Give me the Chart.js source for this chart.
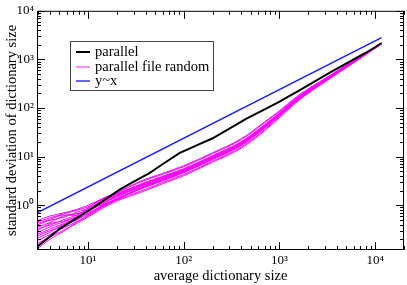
<!DOCTYPE html>
<html>
<head>
<meta charset="utf-8">
<script src="https://cdn.jsdelivr.net/npm/chart.js@4.4.1/dist/chart.umd.min.js"></script>
<style>
  html, body { margin: 0; padding: 0; background: #fff; }
  #wrap { width: 407px; height: 285px; }
</style>
</head>
<body>
<div id="wrap"><canvas id="chart" width="407" height="285"></canvas></div>
<script>
// Series labels as in the legend
const seriesLabels = ['parallel', 'parallel file random', 'y~x'];

// "parallel" (black)
const parallelX = [2.93, 4, 5.07, 7, 10, 14, 21.4, 30, 43.8, 60, 90, 140, 198, 300, 447, 700, 980, 1600, 3500, 8000, 11650];
const parallelY = [0.14, 0.226, 0.33, 0.49, 0.76, 1.19, 2.1, 3.05, 4.6, 6.97, 11.8, 17.4, 23.6, 37.8, 60, 93.5, 132, 228, 559, 1372, 2150];

// "parallel file random" (magenta, several runs on the same x values)
const randomX = [2.93, 4, 5.5, 7.5, 10, 14, 20, 35, 60, 100, 200, 400, 700, 1000, 1600, 3000, 6000, 11600];
const randomRuns = [
  [0.48, 0.6, 0.69, 0.81, 1.0, 1.35, 1.82, 3.12, 4.52, 6.53, 12.0, 23.5, 51.9, 88, 186, 407, 955, 2198],
  [0.45, 0.55, 0.66, 0.78, 0.93, 1.3, 1.78, 2.98, 4.32, 6.21, 11.5, 22.4, 49.6, 85, 177, 401, 946, 2185],
  [0.42, 0.51, 0.63, 0.62, 0.89, 1.36, 1.73, 2.70, 3.94, 5.66, 10.5, 20.4, 45.4, 80.2, 174, 396, 938, 2173],
  [0.39, 0.49, 0.56, 0.71, 0.86, 1.22, 1.66, 2.62, 3.85, 5.5, 10.3, 20.0, 44.6, 78.9, 171, 391, 930, 2163],
  [0.355, 0.44, 0.6, 0.664, 0.78, 1.18, 1.62, 2.56, 3.76, 5.42, 10.06, 19.6, 43.8, 77.6, 169, 387, 923, 2153],
  [0.33, 0.39, 0.5, 0.62, 0.82, 1.14, 1.58, 2.49, 3.67, 5.3, 9.86, 19.2, 43.0, 76.4, 167, 383, 915, 2143],
  [0.297, 0.417, 0.472, 0.575, 0.774, 1.10, 1.52, 2.42, 3.58, 5.18, 9.66, 18.8, 42.2, 75.2, 165, 378, 908, 2133],
  [0.27, 0.36, 0.45, 0.56, 0.74, 1.06, 1.47, 2.35, 3.5, 5.06, 9.47, 18.45, 41.5, 74.0, 162, 373, 900, 2122],
  [0.249, 0.324, 0.415, 0.539, 0.80, 1.02, 1.33, 2.28, 3.41, 4.95, 9.28, 18.1, 40.7, 72.8, 160, 369, 893, 2112],
  [0.23, 0.3, 0.37, 0.51, 0.66, 0.98, 1.38, 2.22, 3.33, 4.85, 9.1, 17.75, 40.0, 71.6, 158, 364, 886, 2100],
  [0.208, 0.278, 0.398, 0.485, 0.692, 0.95, 1.34, 2.16, 3.25, 4.74, 8.91, 17.4, 39.3, 70.5, 156, 360, 879, 2089],
  [0.185, 0.25, 0.34, 0.45, 0.6, 0.9, 1.28, 1.93, 2.93, 4.29, 8.07, 15.8, 35.7, 66, 152, 354, 869, 2075],
  [0.162, 0.223, 0.303, 0.418, 0.571, 0.857, 1.22, 1.82, 2.76, 4.06, 7.67, 15.0, 34.0, 63.5, 145, 348, 859, 2061],
  [0.125, 0.2, 0.288, 0.437, 0.631, 0.933, 1.32, 2.14, 3.16, 4.68, 8.71, 17.0, 38.0, 69.2, 151, 355, 871, 2080]
];

// "y~x" reference line (blue)
const lineX = [2.93, 11650];
const lineY = [0.7, 2800];

// labelled ticks
const xTickValues = [10, 100, 1000, 10000];
const yTickValues = [1, 10, 100, 1000, 10000];

const colors = ['#000000', '#ff00ff', '#1a1aff'];
const serif = "'Liberation Serif', 'Times New Roman', serif";

function points(xs, ys) {
  return xs.map((x, i) => ({ x: x, y: ys[i] }));
}

const sup = { '0': '\u2070', '1': '\u00b9', '2': '\u00b2', '3': '\u00b3', '4': '\u2074', '-': '\u207b' };
function powerLabel(v) {
  const e = Math.round(Math.log10(v));
  return '10' + String(e).split('').map(c => sup[c]).join('');
}

const datasets = [{
  label: seriesLabels[0],
  data: points(parallelX, parallelY),
  borderColor: colors[0],
  borderWidth: 2
}];
randomRuns.forEach((run, i) => {
  datasets.push({
    label: i === 0 ? seriesLabels[1] : '',
    data: points(randomX, run),
    borderColor: colors[1],
    borderWidth: 1,
    cubicInterpolationMode: 'monotone'
  });
});
datasets.push({
  label: seriesLabels[2],
  data: points(lineX, lineY),
  borderColor: colors[2],
  borderWidth: 1.5
});

// frame plus inward ticks on all four sides
const framePlugin = {
  id: 'frame',
  afterDraw(chart) {
    const { ctx, chartArea: a, scales: { x, y } } = chart;
    ctx.save();
    ctx.strokeStyle = '#000';
    ctx.lineWidth = 1;
    ctx.beginPath();
    for (let e = 0; e <= 4; e++) {
      for (let m = 1; m <= 9; m++) {
        const v = m * Math.pow(10, e);
        if (v < x.min || v > x.max) continue;
        const px = Math.round(x.getPixelForValue(v)) + 0.5;
        const len = m === 1 ? 8 : 4;
        ctx.moveTo(px, a.bottom); ctx.lineTo(px, a.bottom - len);
        ctx.moveTo(px, a.top); ctx.lineTo(px, a.top + len);
      }
    }
    for (let e = -1; e <= 4; e++) {
      for (let m = 1; m <= 9; m++) {
        const v = m * Math.pow(10, e);
        if (v < y.min || v > y.max) continue;
        const py = Math.round(y.getPixelForValue(v)) + 0.5;
        const len = m === 1 ? 8 : 4;
        ctx.moveTo(a.left, py); ctx.lineTo(a.left + len, py);
        ctx.moveTo(a.right, py); ctx.lineTo(a.right - len, py);
      }
    }
    ctx.stroke();
    ctx.strokeRect(a.left + 0.5, a.top + 0.5, a.right - a.left - 1, a.bottom - a.top - 1);
    ctx.restore();
  }
};

// boxed legend inside the plot
const legendPlugin = {
  id: 'boxLegend',
  afterDatasetsDraw(chart) {
    const ctx = chart.ctx;
    const bx = 70.5, by = 41.5, bw = 143, bh = 49;
    ctx.save();
    ctx.fillStyle = '#fff';
    ctx.fillRect(bx, by, bw, bh);
    ctx.strokeStyle = '#444';
    ctx.lineWidth = 1;
    ctx.strokeRect(bx, by, bw, bh);
    const rows = [52, 67, 81];
    const widths = [2, 1.5, 1.5];
    const legendColors = ['#000000', '#ff66ff', '#3333ff'];
    ctx.font = '14.5px ' + serif;
    ctx.textBaseline = 'middle';
    ctx.textAlign = 'left';
    seriesLabels.forEach((label, i) => {
      ctx.strokeStyle = legendColors[i];
      ctx.lineWidth = widths[i];
      ctx.beginPath();
      ctx.moveTo(76, rows[i]);
      ctx.lineTo(90, rows[i]);
      ctx.stroke();
      ctx.fillStyle = '#000';
      ctx.fillText(label, 95, rows[i] + 0.5);
    });
    ctx.restore();
  }
};

new Chart(document.getElementById('chart'), {
  type: 'line',
  data: { datasets: datasets },
  plugins: [legendPlugin, framePlugin],
  options: {
    responsive: false,
    devicePixelRatio: 1,
    animation: false,
    elements: { point: { radius: 0 }, line: { tension: 0 } },
    layout: { padding: { top: 7, right: 3, left: 0, bottom: 0 } },
    plugins: { legend: { display: false }, tooltip: { enabled: false } },
    scales: {
      x: {
        type: 'logarithmic',
        min: 2.93,
        max: 20000,
        afterFit: s => { s.height = 35; },
        afterBuildTicks: s => { s.ticks = xTickValues.map(v => ({ value: v })); },
        grid: { display: false, drawTicks: false },
        border: { display: false },
        ticks: {
          autoSkip: false, maxRotation: 0, padding: 3, color: '#000',
          font: { family: serif, size: 13 },
          callback: v => powerLabel(v)
        },
        title: {
          display: true, text: 'average dictionary size', color: '#000',
          font: { family: serif, size: 14.5 }, padding: { top: 0, bottom: 0 }
        }
      },
      y: {
        type: 'logarithmic',
        min: 0.12,
        max: 10000,
        afterFit: s => { s.width = 37; },
        afterBuildTicks: s => { s.ticks = yTickValues.map(v => ({ value: v })); },
        grid: { display: false, drawTicks: false },
        border: { display: false },
        ticks: {
          autoSkip: false, padding: 3, color: '#000',
          font: { family: serif, size: 13 },
          callback: v => powerLabel(v)
        },
        title: {
          display: true, text: 'standard deviation of dictionary size', color: '#000',
          font: { family: serif, size: 14.5 }, padding: { top: 3, bottom: 0 }
        }
      }
    }
  }
});
</script>
</body>
</html>
